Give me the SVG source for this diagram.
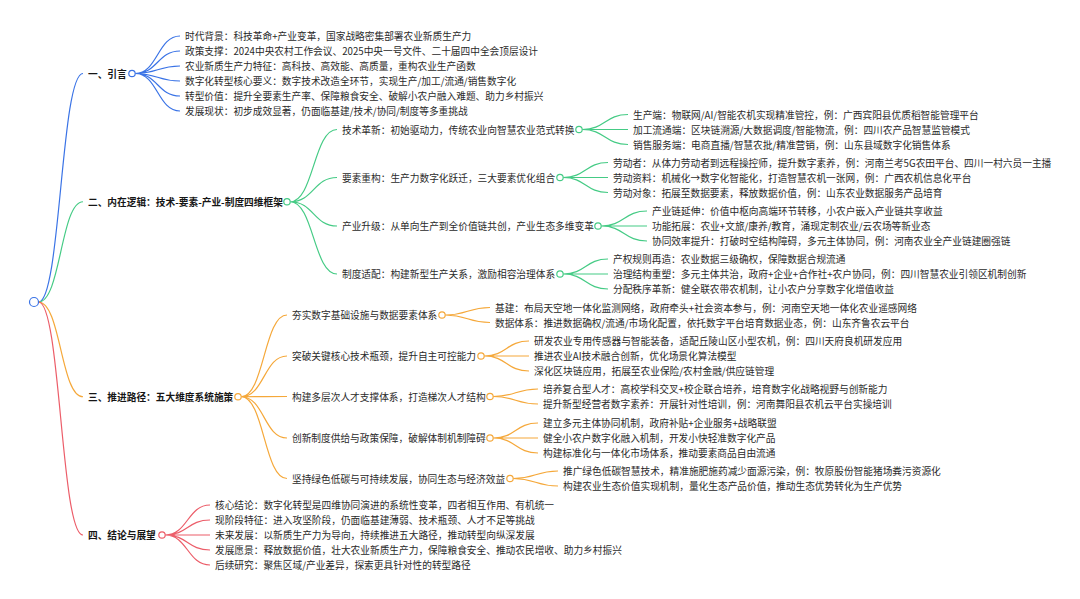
<svg xmlns="http://www.w3.org/2000/svg" width="1080" height="599" viewBox="0 0 1080 599">
<style>
text{font-family:"Noto Sans CJK SC","Noto Sans",sans-serif;font-size:9.7px;fill:#2a2a2a;dominant-baseline:central}
.h{font-weight:700;fill:#161616}
path{fill:none;stroke-width:1.2}
.b{stroke:#3a73e6}.g{stroke:#45cb85}.o{stroke:#f5a83a}.r{stroke:#ec5d69}
circle{fill:#fff;stroke-width:1.2}
</style>
<rect width="1080" height="599" fill="#fff"/>
<g id="connectors">
<path class="b" d="M38.5,302 C60.75,302 60.75,73.5 83,73.5"/>
<path class="g" d="M38.5,302 C60.75,302 60.75,201.75 83,201.75"/>
<path class="o" d="M38.5,302 C60.75,302 60.75,396.75 83,396.75"/>
<path class="r" d="M38.5,302 C60.75,302 60.75,535 83,535"/>
<path class="b" d="M135.2,73.5 C157.6,73.5 157.6,36 180,36 M135.2,73.5 C157.6,73.5 157.6,51 180,51 M135.2,73.5 C157.6,73.5 157.6,66 180,66 M135.2,73.5 C157.6,73.5 157.6,81 180,81 M135.2,73.5 C157.6,73.5 157.6,96 180,96 M135.2,73.5 C157.6,73.5 157.6,111 180,111"/>
<path class="g" d="M290.2,201.75 C313.6,201.75 313.6,129.5 337,129.5 M290.2,201.75 C313.6,201.75 313.6,177.5 337,177.5 M290.2,201.75 C313.6,201.75 313.6,226 337,226 M290.2,201.75 C313.6,201.75 313.6,274 337,274"/>
<path class="g" d="M582.2,129.5 C605.1,129.5 605.1,114.5 628,114.5 M582.2,129.5 L628,129.5 M582.2,129.5 C605.1,129.5 605.1,144.5 628,144.5"/>
<path class="g" d="M563.2,177.5 C585.6,177.5 585.6,162.5 608,162.5 M563.2,177.5 L608,177.5 M563.2,177.5 C585.6,177.5 585.6,192.5 608,192.5"/>
<path class="g" d="M601.2,226 C624.1,226 624.1,211 647,211 M601.2,226 L647,226 M601.2,226 C624.1,226 624.1,241 647,241"/>
<path class="g" d="M563.2,274 C585.6,274 585.6,259 608,259 M563.2,274 L608,274 M563.2,274 C585.6,274 585.6,289 608,289"/>
<path class="o" d="M241.2,396.75 C264.1,396.75 264.1,315 287,315 M241.2,396.75 C264.1,396.75 264.1,356 287,356 M241.2,396.75 C264.1,396.75 264.1,396.5 287,396.5 M241.2,396.75 C264.1,396.75 264.1,438 287,438 M241.2,396.75 C264.1,396.75 264.1,478.5 287,478.5"/>
<path class="o" d="M445.2,315 C467.6,315 467.6,307.5 490,307.5 M445.2,315 C467.6,315 467.6,322.5 490,322.5"/>
<path class="o" d="M484.2,356 C506.6,356 506.6,341 529,341 M484.2,356 L529,356 M484.2,356 C506.6,356 506.6,371 529,371"/>
<path class="o" d="M493.2,396.5 C515.6,396.5 515.6,389 538,389 M493.2,396.5 C515.6,396.5 515.6,404 538,404"/>
<path class="o" d="M493.2,438 C515.6,438 515.6,423 538,423 M493.2,438 L538,438 M493.2,438 C515.6,438 515.6,453 538,453"/>
<path class="o" d="M513.2,478.5 C535.6,478.5 535.6,471 558,471 M513.2,478.5 C535.6,478.5 535.6,486 558,486"/>
<path class="r" d="M165.2,535 C187.6,535 187.6,505 210,505 M165.2,535 C187.6,535 187.6,520 210,520 M165.2,535 L210,535 M165.2,535 C187.6,535 187.6,550 210,550 M165.2,535 C187.6,535 187.6,565 210,565"/>
</g>
<g id="root"><circle cx="34" cy="302" r="4.5" stroke="#3a73e6"/></g>
<g id="n1">
<text class="h" x="88" y="73.5">一、引言</text><circle cx="132" cy="73.5" r="3.2" stroke="#3a73e6"/>
<text x="185" y="36">时代背景：科技革命+产业变革，国家战略密集部署农业新质生产力</text>
<text x="185" y="51">政策支撑：2024中央农村工作会议、2025中央一号文件、二十届四中全会顶层设计</text>
<text x="185" y="66">农业新质生产力特征：高科技、高效能、高质量，重构农业生产函数</text>
<text x="185" y="81">数字化转型核心要义：数字技术改造全环节，实现生产/加工/流通/销售数字化</text>
<text x="185" y="96">转型价值：提升全要素生产率、保障粮食安全、破解小农户融入难题、助力乡村振兴</text>
<text x="185" y="111">发展现状：初步成效显著，仍面临基建/技术/协同/制度等多重挑战</text>
</g>
<g id="n2">
<text class="h" x="88" y="201.75">二、内在逻辑：技术-要素-产业-制度四维框架</text><circle cx="287" cy="201.75" r="3.2" stroke="#45cb85"/>
<g id="n2-1">
<text x="342" y="129.5">技术革新：初始驱动力，传统农业向智慧农业范式转换</text><circle cx="579" cy="129.5" r="3.2" stroke="#45cb85"/>
<text x="633" y="114.5">生产端：物联网/AI/智能农机实现精准管控，例：广西宾阳县优质稻智能管理平台</text>
<text x="633" y="129.5">加工流通端：区块链溯源/大数据调度/智能物流，例：四川农产品智慧监管模式</text>
<text x="633" y="144.5">销售服务端：电商直播/智慧农批/精准营销，例：山东县域数字化销售体系</text>
</g>
<g id="n2-2">
<text x="342" y="177.5">要素重构：生产力数字化跃迁，三大要素优化组合</text><circle cx="560" cy="177.5" r="3.2" stroke="#45cb85"/>
<text x="613" y="162.5">劳动者：从体力劳动者到远程操控师，提升数字素养，例：河南兰考5G农田平台、四川一村六员一主播</text>
<text x="613" y="177.5">劳动资料：机械化→数字化智能化，打造智慧农机一张网，例：广西农机信息化平台</text>
<text x="613" y="192.5">劳动对象：拓展至数据要素，释放数据价值，例：山东农业数据服务产品培育</text>
</g>
<g id="n2-3">
<text x="342" y="226">产业升级：从单向生产到全价值链共创，产业生态多维变革</text><circle cx="598" cy="226" r="3.2" stroke="#45cb85"/>
<text x="652" y="211">产业链延伸：价值中枢向高端环节转移，小农户嵌入产业链共享收益</text>
<text x="652" y="226">功能拓展：农业+文旅/康养/教育，涌现定制农业/云农场等新业态</text>
<text x="652" y="241">协同效率提升：打破时空结构障碍，多元主体协同，例：河南农业全产业链建圈强链</text>
</g>
<g id="n2-4">
<text x="342" y="274">制度适配：构建新型生产关系，激励相容治理体系</text><circle cx="560" cy="274" r="3.2" stroke="#45cb85"/>
<text x="613" y="259">产权规则再造：农业数据三级确权，保障数据合规流通</text>
<text x="613" y="274">治理结构重塑：多元主体共治，政府+企业+合作社+农户协同，例：四川智慧农业引领区机制创新</text>
<text x="613" y="289">分配秩序革新：健全联农带农机制，让小农户分享数字化增值收益</text>
</g>
</g>
<g id="n3">
<text class="h" x="88" y="396.75">三、推进路径：五大维度系统施策</text><circle cx="238" cy="396.75" r="3.2" stroke="#f5a83a"/>
<g id="n3-1">
<text x="292" y="315">夯实数字基础设施与数据要素体系</text><circle cx="442" cy="315" r="3.2" stroke="#f5a83a"/>
<text x="495" y="307.5">基建：布局天空地一体化监测网络，政府牵头+社会资本参与，例：河南空天地一体化农业遥感网络</text>
<text x="495" y="322.5">数据体系：推进数据确权/流通/市场化配置，依托数字平台培育数据业态，例：山东齐鲁农云平台</text>
</g>
<g id="n3-2">
<text x="292" y="356">突破关键核心技术瓶颈，提升自主可控能力</text><circle cx="481" cy="356" r="3.2" stroke="#f5a83a"/>
<text x="534" y="341">研发农业专用传感器与智能装备，适配丘陵山区小型农机，例：四川天府良机研发应用</text>
<text x="534" y="356">推进农业AI技术融合创新，优化场景化算法模型</text>
<text x="534" y="371">深化区块链应用，拓展至农业保险/农村金融/供应链管理</text>
</g>
<g id="n3-3">
<text x="292" y="396.5">构建多层次人才支撑体系，打造梯次人才结构</text><circle cx="490" cy="396.5" r="3.2" stroke="#f5a83a"/>
<text x="543" y="389">培养复合型人才：高校学科交叉+校企联合培养，培育数字化战略视野与创新能力</text>
<text x="543" y="404">提升新型经营者数字素养：开展针对性培训，例：河南舞阳县农机云平台实操培训</text>
</g>
<g id="n3-4">
<text x="292" y="438">创新制度供给与政策保障，破解体制机制障碍</text><circle cx="490" cy="438" r="3.2" stroke="#f5a83a"/>
<text x="543" y="423">建立多元主体协同机制，政府补贴+企业服务+战略联盟</text>
<text x="543" y="438">健全小农户数字化融入机制，开发小快轻准数字化产品</text>
<text x="543" y="453">构建标准化与一体化市场体系，推动要素商品自由流通</text>
</g>
<g id="n3-5">
<text x="292" y="478.5">坚持绿色低碳与可持续发展，协同生态与经济效益</text><circle cx="510" cy="478.5" r="3.2" stroke="#f5a83a"/>
<text x="563" y="471">推广绿色低碳智慧技术，精准施肥施药减少面源污染，例：牧原股份智能猪场粪污资源化</text>
<text x="563" y="486">构建农业生态价值实现机制，量化生态产品价值，推动生态优势转化为生产优势</text>
</g>
</g>
<g id="n4">
<text class="h" x="88" y="535">四、结论与展望</text><circle cx="162" cy="535" r="3.2" stroke="#ec5d69"/>
<text x="215" y="505">核心结论：数字化转型是四维协同演进的系统性变革，四者相互作用、有机统一</text>
<text x="215" y="520">现阶段特征：进入攻坚阶段，仍面临基建薄弱、技术瓶颈、人才不足等挑战</text>
<text x="215" y="535">未来发展：以新质生产力为导向，持续推进五大路径，推动转型向纵深发展</text>
<text x="215" y="550">发展愿景：释放数据价值，壮大农业新质生产力，保障粮食安全、推动农民增收、助力乡村振兴</text>
<text x="215" y="565">后续研究：聚焦区域/产业差异，探索更具针对性的转型路径</text>
</g>
</svg>
